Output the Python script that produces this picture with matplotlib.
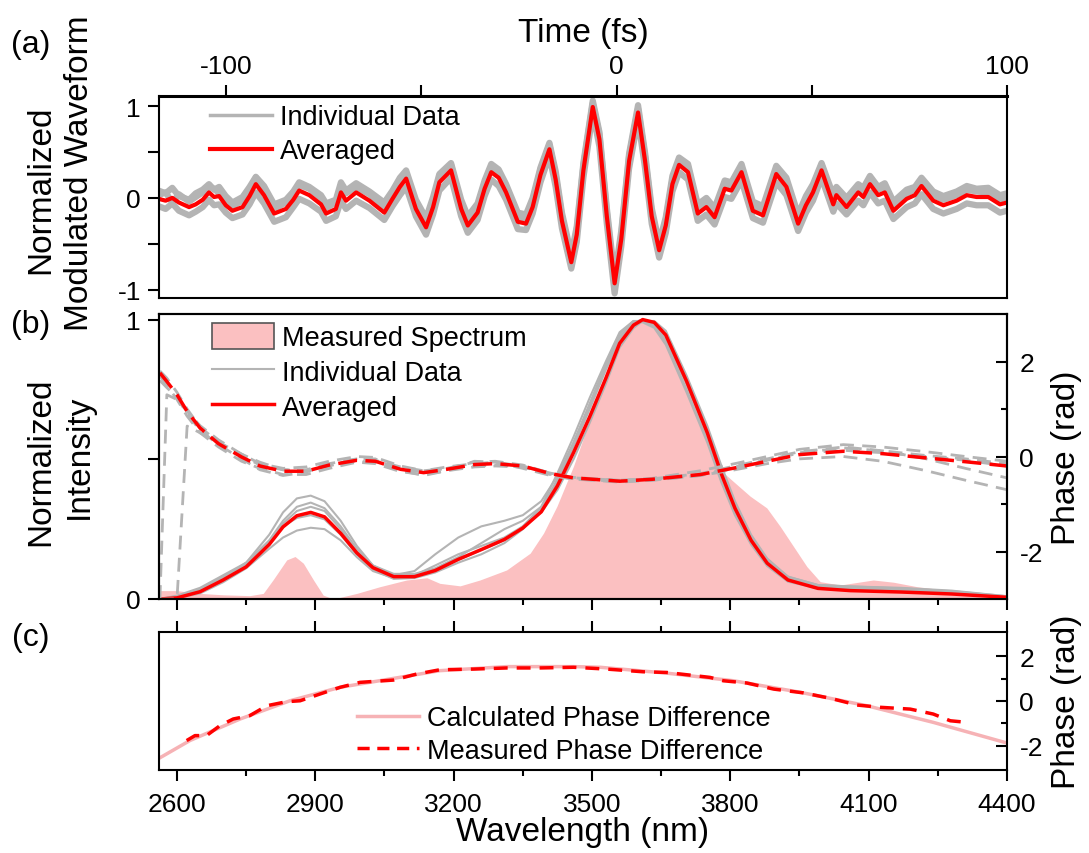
import matplotlib.pyplot as plt
from matplotlib.lines import Line2D
from matplotlib.patches import Patch

# ---- (a) time-domain waveform ----
time_fs = [
    -117.3, -115.5, -113.8, -112.1, -109.5, -107.8, -106.0, -104.4, -103.1, -101.8,
    -100.1, -98.4, -95.8, -94.0, -92.4, -90.3, -87.7, -84.7, -82.8, -81.3,
    -78.7, -75.7, -74.4, -71.9, -70.6, -69.3, -66.7, -63.3, -59.5, -57.4,
    -55.5, -53.9, -51.4, -48.8, -47.0, -45.4, -42.4, -39.8, -38.1, -35.6,
    -33.8, -32.1, -30.2, -28.3, -25.3, -23.2, -21.5, -19.5, -17.2, -15.6,
    -14.0, -11.6, -10.2, -8.5, -6.1, -4.4, -2.5, -0.5, 1.2, 3.2,
    5.5, 7.3, 9.0, 10.9, 12.6, 14.3, 16.0, 18.3, 20.8, 23.0,
    25.1, 27.7, 29.4, 32.0, 34.9, 37.5, 40.9, 43.5, 46.5, 48.5,
    50.3, 52.5, 55.5, 56.3, 58.9, 61.9, 63.2, 64.9, 67.0, 68.7,
    70.9, 74.3, 76.4, 78.1, 81.1, 83.7, 87.1, 89.7, 92.2, 95.2,
    98.2, 100.0,
]
wave_avg = [
    -0.01, -0.03, 0.00, -0.05, -0.10, -0.07, -0.02, 0.06, 0.01, 0.02,
    -0.08, -0.14, -0.10, 0.02, 0.15, 0.03, -0.17, -0.12, -0.02, 0.08,
    0.03, -0.07, -0.17, -0.12, 0.06, -0.03, 0.06, -0.03, -0.16, -0.01,
    0.12, 0.21, -0.12, -0.32, -0.10, 0.17, 0.30, -0.12, -0.30, -0.16,
    0.10, 0.28, 0.22, 0.06, -0.26, -0.28, -0.10, 0.25, 0.53, 0.20,
    -0.25, -0.70, -0.40, 0.30, 0.99, 0.64, -0.20, -0.93, -0.45, 0.40,
    0.93, 0.40, -0.20, -0.57, -0.30, 0.15, 0.36, 0.28, -0.17, -0.10,
    -0.21, 0.10, 0.08, 0.28, -0.14, -0.19, 0.26, 0.12, -0.28, -0.08,
    0.06, 0.30, -0.07, 0.03, -0.10, 0.06, 0.01, 0.15, 0.03, 0.06,
    -0.14, -0.01, 0.03, 0.13, -0.03, -0.08, -0.03, 0.03, 0.01, 0.01,
    -0.07, -0.05,
]
wave_ind_1 = [
    0.08, 0.05, 0.11, 0.02, -0.02, 0.05, 0.09, 0.15, 0.09, 0.12,
    0.02, -0.05, 0.01, 0.12, 0.23, 0.13, -0.07, -0.02, 0.07, 0.17,
    0.12, 0.03, -0.06, -0.02, 0.17, 0.08, 0.16, 0.07, -0.05, 0.08,
    0.22, 0.30, -0.02, -0.22, 0.01, 0.26, 0.38, -0.02, -0.20, -0.06,
    0.19, 0.37, 0.31, 0.15, -0.16, -0.18, 0.00, 0.33, 0.60, 0.29,
    -0.16, -0.62, -0.31, 0.38, 1.06, 0.72, -0.11, -0.86, -0.36, 0.48,
    1.01, 0.49, -0.11, -0.49, -0.21, 0.24, 0.44, 0.37, -0.07, 0.00,
    -0.11, 0.19, 0.17, 0.37, -0.04, -0.09, 0.35, 0.22, -0.18, 0.02,
    0.15, 0.38, 0.03, 0.12, 0.00, 0.15, 0.11, 0.24, 0.12, 0.16,
    -0.04, 0.09, 0.12, 0.22, 0.07, 0.02, 0.07, 0.13, 0.10, 0.11,
    0.03, 0.05,
]
wave_ind_2 = [
    -0.09, -0.12, -0.06, -0.14, -0.19, -0.15, -0.10, -0.02, -0.08, -0.07,
    -0.16, -0.22, -0.18, -0.07, 0.06, -0.06, -0.26, -0.21, -0.10, -0.01,
    -0.06, -0.15, -0.25, -0.20, -0.03, -0.12, -0.03, -0.11, -0.24, -0.09,
    0.03, 0.12, -0.20, -0.40, -0.18, 0.08, 0.22, -0.20, -0.38, -0.24,
    0.02, 0.20, 0.13, -0.02, -0.34, -0.35, -0.17, 0.17, 0.46, 0.12,
    -0.33, -0.77, -0.48, 0.22, 0.93, 0.56, -0.28, -1.04, -0.53, 0.32,
    0.86, 0.32, -0.28, -0.65, -0.38, 0.07, 0.28, 0.20, -0.25, -0.18,
    -0.29, 0.01, -0.01, 0.19, -0.22, -0.27, 0.17, 0.03, -0.36, -0.16,
    -0.03, 0.22, -0.15, -0.06, -0.18, -0.03, -0.08, 0.06, -0.06, -0.03,
    -0.23, -0.10, -0.06, 0.04, -0.12, -0.17, -0.12, -0.06, -0.08, -0.08,
    -0.16, -0.14,
]
wave_ind_3 = [
    0.03, 0.06, -0.05, 0.04, -0.04, 0.01, 0.06, 0.12, 0.10, 0.05,
    -0.01, -0.09, -0.03, 0.09, 0.22, 0.09, -0.12, -0.05, 0.06, 0.14,
    0.10, 0.00, -0.11, -0.05, 0.13, 0.05, 0.12, 0.04, -0.10, 0.06,
    0.18, 0.27, -0.06, -0.27, -0.04, 0.23, 0.36, -0.07, -0.26, -0.10,
    0.16, 0.34, 0.28, 0.12, -0.21, -0.23, -0.05, 0.31, 0.58, 0.25,
    -0.20, -0.66, -0.35, 0.35, 1.03, 0.69, -0.15, -0.97, -0.40, 0.45,
    0.97, 0.45, -0.15, -0.53, -0.25, 0.20, 0.42, 0.34, -0.12, -0.04,
    -0.16, 0.16, 0.13, 0.33, -0.09, -0.14, 0.31, 0.17, -0.23, -0.03,
    0.12, 0.36, -0.02, 0.09, -0.05, 0.12, 0.07, 0.21, 0.09, 0.12,
    -0.08, 0.05, 0.09, 0.19, 0.03, -0.02, 0.03, 0.09, 0.07, 0.06,
    -0.02, 0.01,
]

# ---- (b) spectra and retrieved phase ----
lam_spec = [
    2561, 2600, 2650, 2700, 2758, 2787, 2809, 2838, 2856, 2874,
    2896, 2917, 2939, 2990, 3040, 3098, 3142, 3170, 3214, 3257,
    3315, 3366, 3395, 3424, 3460, 3496, 3532, 3561, 3597, 3648,
    3698, 3756, 3785, 3807, 3843, 3879, 3908, 3937, 3966, 3995,
    4038, 4110, 4154, 4205, 4277, 4400,
]
spec_measured = [
    0.03, 0.03, 0.02, 0.015, 0.012, 0.02, 0.07, 0.14, 0.152, 0.128,
    0.068, 0.014, 0.0, 0.02, 0.044, 0.068, 0.076, 0.056, 0.047, 0.068,
    0.104, 0.164, 0.236, 0.332, 0.476, 0.644, 0.81, 0.95, 1.0, 0.956,
    0.81, 0.572, 0.452, 0.42, 0.368, 0.326, 0.26, 0.188, 0.116, 0.062,
    0.05, 0.068, 0.06, 0.044, 0.03, 0.01,
]

lam_int = [
    2563, 2600, 2650, 2700, 2750, 2800, 2830, 2860, 2890, 2920,
    2955, 2990, 3025, 3070, 3115, 3160, 3210, 3260, 3310, 3350,
    3390, 3425, 3460, 3495, 3530, 3560, 3590, 3610, 3635, 3660,
    3705, 3750, 3780, 3810, 3845, 3880, 3925, 3990, 4060, 4170,
    4280, 4400,
]
int_avg = [
    0.0, 0.004, 0.026, 0.068, 0.115, 0.195, 0.258, 0.298, 0.31, 0.294,
    0.235, 0.165, 0.112, 0.08, 0.08, 0.102, 0.142, 0.177, 0.213, 0.254,
    0.312, 0.405, 0.524, 0.652, 0.79, 0.915, 0.98, 1.0, 0.99, 0.945,
    0.78, 0.595, 0.45, 0.325, 0.21, 0.128, 0.068, 0.038, 0.03, 0.025,
    0.018, 0.006,
]
int_ind_1 = [
    0.0, 0.006, 0.03, 0.075, 0.13, 0.23, 0.31, 0.36, 0.37, 0.35,
    0.28, 0.19, 0.12, 0.085, 0.10, 0.16, 0.22, 0.26, 0.28, 0.30,
    0.35, 0.44, 0.56, 0.69, 0.83, 0.94, 0.99, 1.0, 0.98, 0.93,
    0.77, 0.59, 0.45, 0.33, 0.22, 0.14, 0.08, 0.05, 0.045, 0.04,
    0.03, 0.01,
]
int_ind_2 = [
    0.0, 0.01, 0.035, 0.08, 0.125, 0.2, 0.26, 0.29, 0.3, 0.285,
    0.23, 0.16, 0.105, 0.072, 0.075, 0.095, 0.13, 0.16, 0.2, 0.25,
    0.32, 0.43, 0.56, 0.7, 0.84, 0.95, 0.995, 0.995, 0.975, 0.92,
    0.75, 0.57, 0.43, 0.31, 0.2, 0.12, 0.065, 0.04, 0.035, 0.03,
    0.022, 0.008,
]
int_ind_3 = [
    0.0, 0.003, 0.02, 0.06, 0.11, 0.18, 0.22, 0.245, 0.255, 0.25,
    0.21, 0.15, 0.1, 0.075, 0.085, 0.12, 0.16, 0.19, 0.22, 0.26,
    0.31, 0.39, 0.5, 0.63, 0.77, 0.9, 0.97, 0.995, 0.995, 0.96,
    0.8, 0.62, 0.48, 0.35, 0.23, 0.145, 0.08, 0.05, 0.045, 0.038,
    0.028, 0.01,
]
int_ind_4 = [
    0.0, 0.012, 0.04, 0.085, 0.13, 0.21, 0.28, 0.33, 0.345, 0.325,
    0.26, 0.18, 0.12, 0.09, 0.09, 0.11, 0.15, 0.2, 0.25, 0.28,
    0.33, 0.42, 0.545, 0.68, 0.82, 0.93, 0.985, 1.0, 0.985, 0.94,
    0.79, 0.61, 0.47, 0.34, 0.225, 0.14, 0.075, 0.045, 0.04, 0.035,
    0.025, 0.008,
]
int_ind_5 = [
    0.0, 0.005, 0.028, 0.07, 0.12, 0.2, 0.27, 0.315, 0.33, 0.315,
    0.25, 0.17, 0.11, 0.08, 0.082, 0.1, 0.14, 0.175, 0.21, 0.26,
    0.33, 0.45, 0.58, 0.72, 0.85, 0.955, 0.995, 0.99, 0.97, 0.91,
    0.74, 0.56, 0.42, 0.3, 0.195, 0.118, 0.062, 0.038, 0.033, 0.028,
    0.02, 0.006,
]

lam_phase = [
    2563, 2578, 2600, 2622, 2650, 2690, 2740, 2780, 2830, 2880,
    2930, 2990, 3030, 3085, 3135, 3185, 3245, 3290, 3350, 3410,
    3460, 3560, 3630, 3735, 3810, 3880, 3950, 4045, 4130, 4225,
    4310, 4400,
]
phase_avg = [
    1.76, 1.58, 1.30, 0.95, 0.60, 0.27, -0.01, -0.20, -0.31, -0.31,
    -0.18, -0.08, -0.10, -0.27, -0.34, -0.27, -0.17, -0.15, -0.20, -0.36,
    -0.45, -0.52, -0.48, -0.38, -0.24, -0.10, 0.04, 0.11, 0.06, -0.03,
    -0.11, -0.20,
]
phase_ind_1 = [
    -3.0, 1.3, 1.2, 0.95, 0.65, 0.35, 0.05, -0.15, -0.25, -0.22,
    -0.1, 0.0, -0.02, -0.2, -0.3, -0.25, -0.12, -0.1, -0.18, -0.35,
    -0.45, -0.5, -0.46, -0.3, -0.15, 0.0, 0.15, 0.25, 0.2, 0.1,
    0.0, -0.1,
]
phase_ind_2 = [
    -3.0, -3.0, -3.0, 0.64, 0.5, 0.3, 0.05, -0.12, -0.28, -0.3,
    -0.2, -0.05, -0.05, -0.3, -0.4, -0.3, -0.1, -0.12, -0.25, -0.4,
    -0.48, -0.52, -0.5, -0.4, -0.28, -0.15, -0.05, 0.0, -0.1, -0.3,
    -0.5, -0.7,
]
phase_ind_3 = [
    1.7, 1.5, 1.2, 0.85, 0.5, 0.2, -0.1, -0.25, -0.38, -0.38,
    -0.25, -0.12, -0.15, -0.32, -0.38, -0.3, -0.22, -0.2, -0.22, -0.38,
    -0.47, -0.54, -0.5, -0.4, -0.25, -0.08, 0.08, 0.18, 0.12, 0.02,
    -0.05, -0.15,
]
phase_ind_4 = [
    1.6, 1.45, 1.25, 0.9, 0.55, 0.25, -0.05, -0.28, -0.4, -0.33,
    -0.15, -0.05, -0.08, -0.22, -0.3, -0.22, -0.15, -0.12, -0.2, -0.35,
    -0.44, -0.5, -0.47, -0.36, -0.2, -0.05, 0.1, 0.2, 0.12, -0.05,
    -0.25, -0.45,
]
phase_ind_5 = [
    1.8, 1.65, 1.35, 1.0, 0.62, 0.3, 0.02, -0.18, -0.28, -0.28,
    -0.15, -0.1, -0.12, -0.28, -0.32, -0.25, -0.2, -0.18, -0.22, -0.37,
    -0.46, -0.53, -0.49, -0.37, -0.22, -0.07, 0.07, 0.13, 0.08, 0.0,
    -0.08, -0.2,
]

# ---- (c) phase difference ----
lam_calc = [2561, 2628, 2737, 2845, 2954, 3062, 3170, 3315,
            3460, 3518, 3662, 3807, 3951, 4096, 4240, 4400]
phase_calc = [-2.55, -1.76, -0.80, 0.01, 0.61, 0.98, 1.35, 1.53,
              1.53, 1.50, 1.24, 0.90, 0.39, -0.21, -0.95, -1.87]
lam_meas = [
    2621, 2639, 2664, 2693, 2722, 2758, 2795, 2838, 2867, 2910,
    2954, 2997, 3069, 3120, 3170, 3243, 3315, 3387, 3460, 3532,
    3611, 3662, 3756, 3785, 3836, 3894, 3959, 4017, 4075, 4125,
    4190, 4240, 4277, 4313,
]
phase_meas = [
    -1.76, -1.54, -1.54, -1.10, -0.80, -0.65, -0.21, -0.03, 0.01, 0.31,
    0.61, 0.83, 0.93, 1.20, 1.39, 1.42, 1.47, 1.47, 1.50, 1.42,
    1.30, 1.27, 1.05, 0.90, 0.80, 0.53, 0.36, 0.12, -0.18, -0.28,
    -0.36, -0.58, -0.88, -0.95,
]

RED = '#FF0000'
GRAY = '#B4B4B4'
PINK = '#FBC0C1'
PINK_LINE = '#F6B2B5'
TICK_FS = 19
LABEL_FS = 24
LEG_FS = 19.5

plt.rcParams['font.family'] = ['Liberation Sans', 'DejaVu Sans']
plt.rcParams['axes.linewidth'] = 1.5
plt.rcParams['axes.unicode_minus'] = False

W, H = 1089, 854
fig = plt.figure(figsize=(W / 100, H / 100), dpi=100)


def box(left, top, right, bottom):
    # pixel edges -> figure fraction rectangle
    return [left / W, 1 - bottom / H, (right - left) / W, (bottom - top) / H]


ax_a = fig.add_axes(box(159, 97, 1007, 299))
ax_b = fig.add_axes(box(159, 315, 1007, 600))
ax_c = fig.add_axes(box(159, 633, 1007, 771))

# (a) waveform
for trace in (wave_ind_2, wave_ind_1, wave_ind_3):
    ax_a.plot(time_fs, trace, color=GRAY, lw=4.5)
ax_a.plot(time_fs, wave_avg, color=RED, lw=3)
ax_a.set_xlim(-117.2, 100)
ax_a.set_ylim(-1.09, 1.11)
ax_a.spines['top'].set_linewidth(2.2)
ax_a.xaxis.tick_top()
ax_a.xaxis.set_label_position('top')
ax_a.set_xticks([-100, 0, 100])
ax_a.set_xticks([-50, 50], minor=True)
ax_a.set_yticks([-1, 0, 1])
ax_a.set_yticks([-0.5, 0.5], minor=True)
ax_a.tick_params(which='both', direction='out', length=8, width=1.5,
                 labelsize=TICK_FS, pad=5)
ax_a.set_xlabel('Time (fs)', fontsize=LABEL_FS, labelpad=9)
ax_a.legend(handles=[Line2D([], [], color=GRAY, lw=2.5),
                     Line2D([], [], color=RED, lw=3)],
            labels=['Individual Data', 'Averaged'],
            loc='upper left', bbox_to_anchor=(0.06, 0.96), frameon=False,
            fontsize=LEG_FS, borderpad=0, borderaxespad=0,
            handlelength=2.3, handletextpad=0.3, labelspacing=0.3)

# (b) spectrum and phase
ax_b.fill_between(lam_spec, spec_measured, color=PINK, lw=0, zorder=1)
for trace in (int_ind_1, int_ind_2, int_ind_3, int_ind_4, int_ind_5):
    ax_b.plot(lam_int, trace, color=GRAY, lw=1.5, zorder=2)
ax_b.plot(lam_int, int_avg, color=RED, lw=2.5, zorder=3)
ax_b.set_xlim(2561, 4400)
ax_b.set_ylim(0, 1.02)
ax_b.set_yticks([0, 1])
ax_b.set_yticks([0.5], minor=True)
ax_b.set_xticks(range(2600, 4401, 300))
ax_b.set_xticks(range(2750, 4400, 300), minor=True)
ax_b.tick_params(axis='y', which='both', direction='out', length=8,
                 width=1.5, labelsize=TICK_FS, pad=5)
ax_b.tick_params(axis='x', which='major', direction='out', length=8,
                 width=1.5, labelbottom=False)
ax_b.tick_params(axis='x', which='minor', direction='out', length=4,
                 width=1.5)

ax_bp = ax_b.twinx()
for trace in (phase_ind_1, phase_ind_2, phase_ind_3, phase_ind_4, phase_ind_5):
    ax_bp.plot(lam_phase, trace, color=GRAY, lw=2, dashes=(5, 3))
ax_bp.plot(lam_phase, phase_avg, color=RED, lw=2.5, dashes=(5.5, 2.4))
ax_bp.set_ylim(-3, 3)
ax_bp.set_yticks([-2, 0, 2])
ax_bp.set_yticks([-1, 1], minor=True)
ax_bp.tick_params(axis='y', which='major', direction='in', length=8,
                  width=1.5, labelsize=TICK_FS, pad=9)
ax_bp.tick_params(axis='y', which='minor', direction='in', length=4,
                  width=1.5)
ax_bp.set_ylabel('Phase (rad)', fontsize=LABEL_FS, labelpad=6)
ax_bp.legend(handles=[Patch(facecolor=PINK, edgecolor='#555555', lw=1.2),
                      Line2D([], [], color=GRAY, lw=1.5),
                      Line2D([], [], color=RED, lw=2.5)],
             labels=['Measured Spectrum', 'Individual Data', 'Averaged'],
             loc='upper left', bbox_to_anchor=(0.062, 0.97), frameon=False,
             fontsize=LEG_FS, borderpad=0, borderaxespad=0,
             handlelength=2.3, handleheight=1.1, handletextpad=0.3,
             labelspacing=0.25)

# (c) phase difference
ax_c.plot(lam_calc, phase_calc, color=PINK_LINE, lw=2.5)
ax_c.plot(lam_meas, phase_meas, color=RED, lw=2.5, dashes=(4, 2.6))
ax_c.set_xlim(2561, 4400)
ax_c.set_ylim(-3.07, 3.07)
ax_c.yaxis.tick_right()
ax_c.yaxis.set_label_position('right')
ax_c.set_yticks([-2, 0, 2])
ax_c.set_yticks([-1, 1], minor=True)
ax_c.set_xticks(range(2600, 4401, 300))
ax_c.set_xticks(range(2750, 4400, 300), minor=True)
ax_c.tick_params(axis='x', which='major', direction='out', length=8,
                 width=1.5, top=True, labelsize=TICK_FS, pad=8)
ax_c.tick_params(axis='x', which='minor', direction='out', length=4,
                 width=1.5, top=True)
ax_c.tick_params(axis='y', which='major', direction='in', length=8,
                 width=1.5, labelsize=TICK_FS, pad=9)
ax_c.tick_params(axis='y', which='minor', direction='in', length=4,
                 width=1.5)
ax_c.set_xlabel('Wavelength (nm)', fontsize=LABEL_FS, labelpad=0)
ax_c.set_ylabel('Phase (rad)', fontsize=LABEL_FS, labelpad=6)
ax_c.legend(handles=[Line2D([], [], color=PINK_LINE, lw=2.5),
                     Line2D([], [], color=RED, lw=2.5, dashes=(3.5, 2.2))],
            labels=['Calculated Phase Difference', 'Measured Phase Difference'],
            loc='upper left', bbox_to_anchor=(0.233, 0.47), frameon=False,
            fontsize=LEG_FS, borderpad=0, borderaxespad=0,
            handlelength=2.3, handletextpad=0.3, labelspacing=0.25)

# left-hand axis titles, one text per line
for text, x, y in (('Normalized', 41, 190), ('Modulated Waveform', 79, 173),
                   ('Normalized', 41, 462), ('Intensity', 79, 457)):
    fig.text(x / W, 1 - y / H, text, rotation=90, ha='center', va='center',
             fontsize=LABEL_FS)
for tag, y in (('(a)', 45), ('(b)', 325), ('(c)', 638)):
    fig.text(31 / W, 1 - y / H, tag, ha='center', va='center',
             fontsize=LABEL_FS - 1)

fig.savefig('out.png', dpi=100)
